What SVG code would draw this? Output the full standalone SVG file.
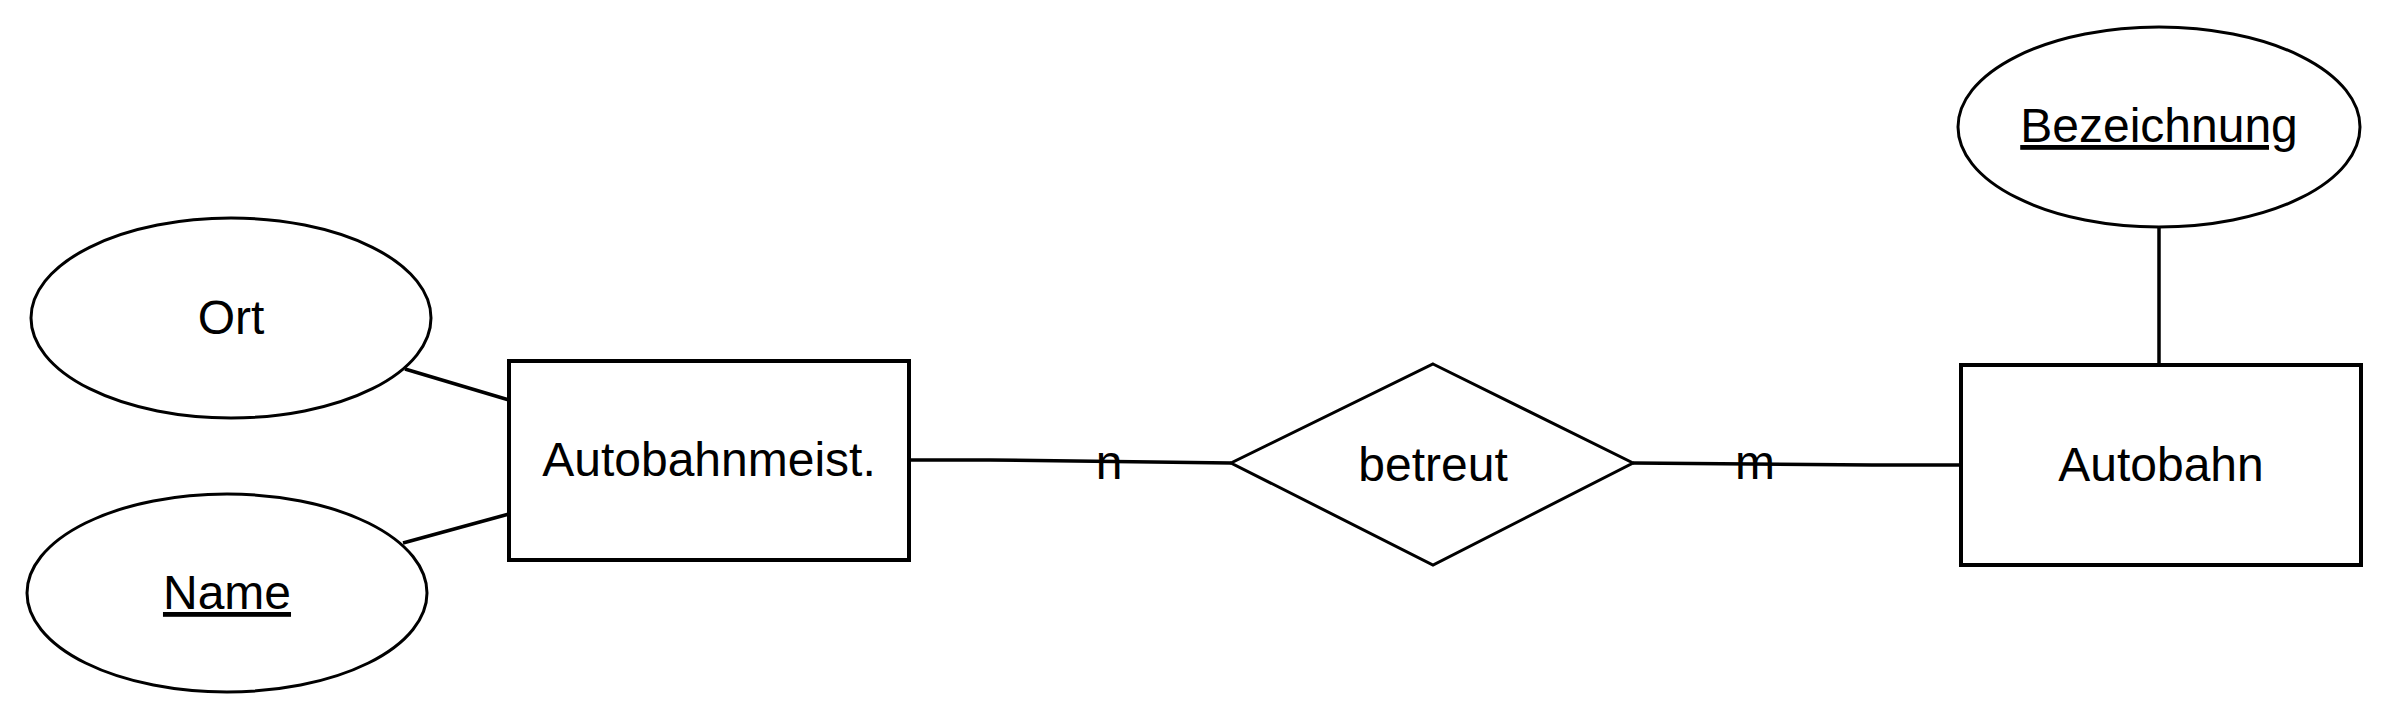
<svg xmlns="http://www.w3.org/2000/svg" width="2388" height="724" viewBox="0 0 2388 724">
<style>
.shape{fill:#fff;stroke:#000;stroke-width:3}
.ent{fill:#fff;stroke:#000;stroke-width:4}
.con{fill:none;stroke:#000;stroke-width:3.5}
text{font-family:"Liberation Sans",Arial,sans-serif;font-size:48px;fill:#000;text-anchor:middle}
.key{text-decoration:underline}
</style>
<rect width="2388" height="724" fill="#fff"/>
<g id="connectors">
<line class="con" x1="405" y1="369" x2="509" y2="400"/>
<line class="con" x1="403" y1="543" x2="509" y2="514"/>
<line class="con" x1="2159" y1="227" x2="2159" y2="365"/>
<polyline class="con" points="909,460 990,460 1231,463"/>
<polyline class="con" points="1633,463 1872,465 1961,465"/>
<text x="1109" y="479">n</text>
<text x="1755" y="479">m</text>
</g>
<g id="ort">
<ellipse class="shape" cx="231" cy="318" rx="200" ry="100"/>
<text x="231" y="334">Ort</text>
</g>
<g id="name">
<ellipse class="shape" cx="227" cy="593" rx="200" ry="99"/>
<text class="key" x="227" y="609">Name</text>
</g>
<g id="autobahnmeist">
<rect class="ent" x="509" y="361" width="400" height="199"/>
<text x="709" y="476">Autobahnmeist.</text>
</g>
<g id="betreut">
<polygon class="shape" points="1433,364 1633,463 1433,565 1231,463"/>
<text x="1433" y="481">betreut</text>
</g>
<g id="autobahn">
<rect class="ent" x="1961" y="365" width="400" height="200"/>
<text x="2161" y="481">Autobahn</text>
</g>
<g id="bezeichnung">
<ellipse class="shape" cx="2159" cy="127" rx="201" ry="100"/>
<text class="key" x="2159" y="142">Bezeichnung</text>
</g>
</svg>
